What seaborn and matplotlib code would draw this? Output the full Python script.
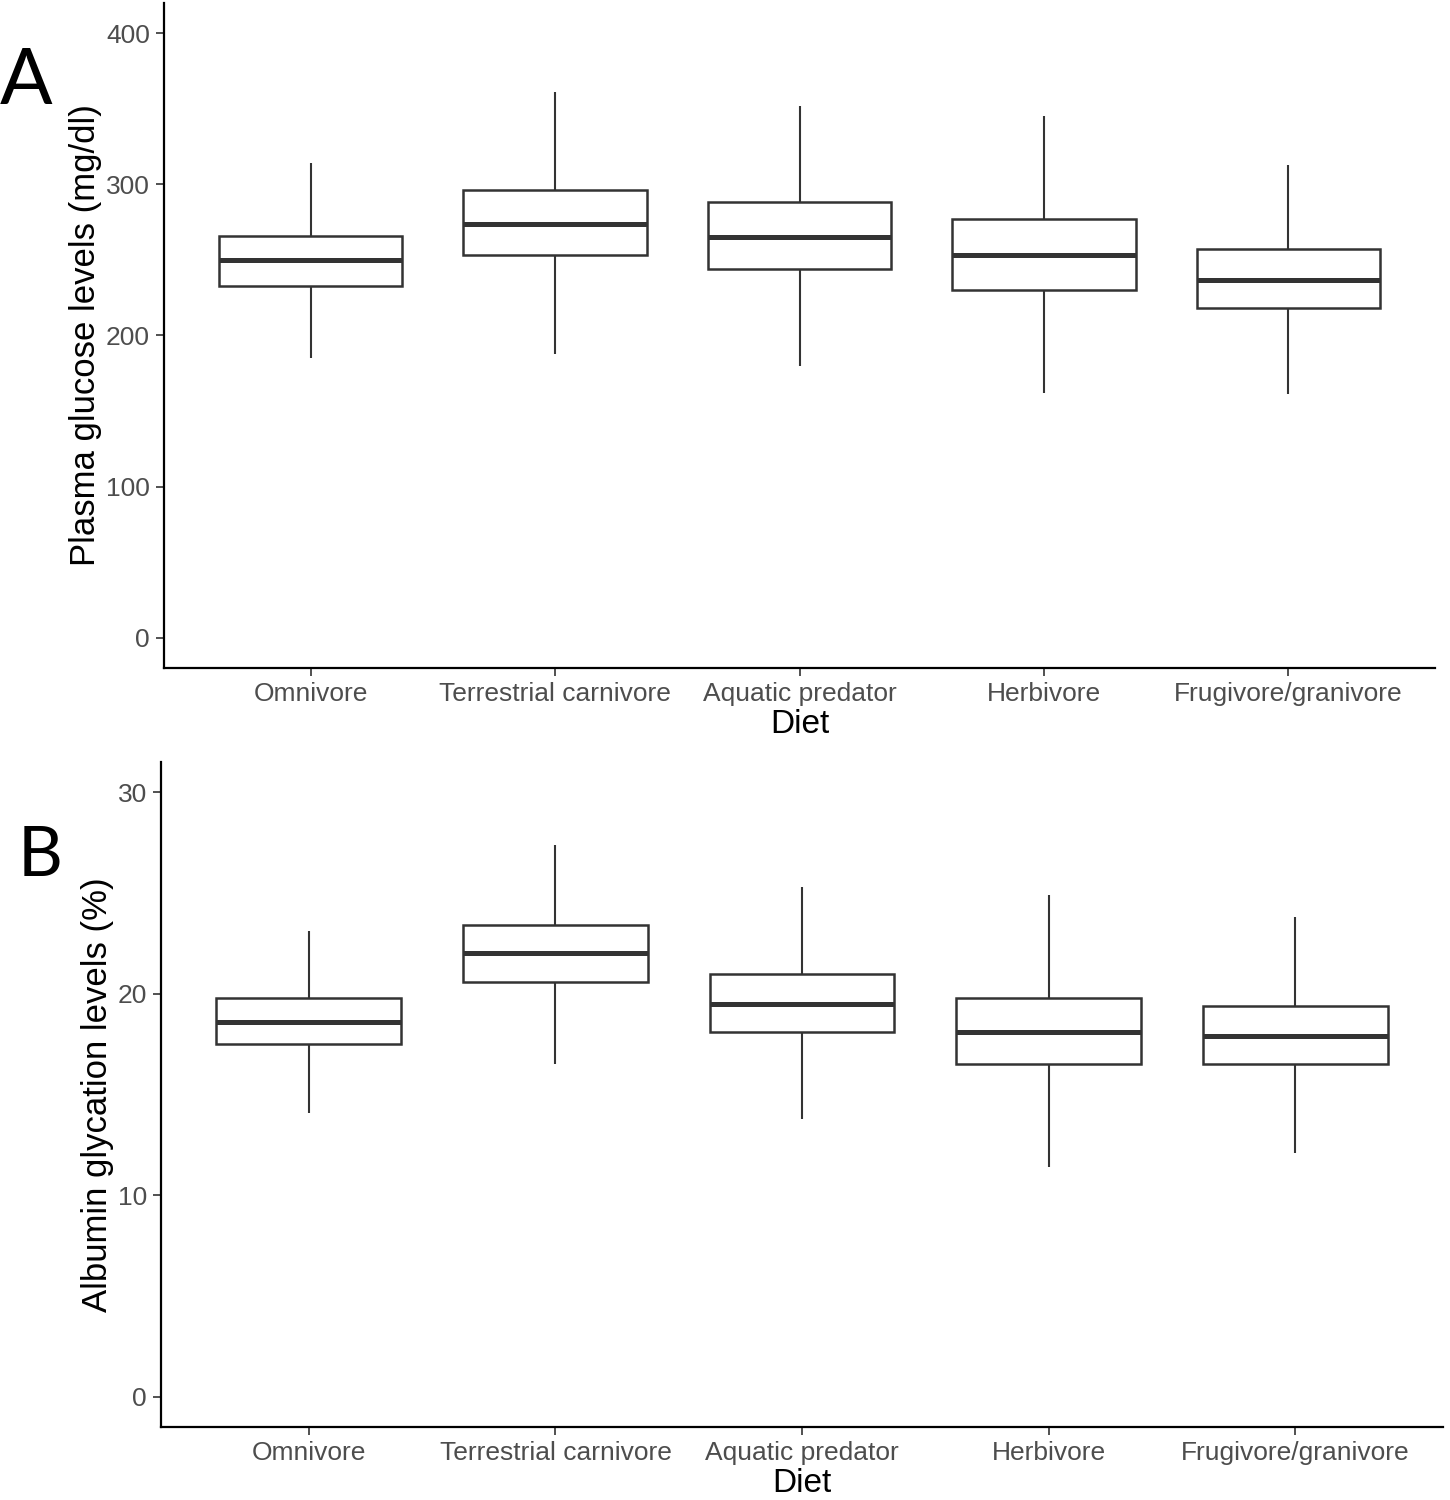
import pandas as pd
import matplotlib

matplotlib.use("Agg")
import matplotlib.pyplot as plt
import seaborn as sns

diets = ["Omnivore", "Terrestrial carnivore", "Aquatic predator", "Herbivore", "Frugivore/granivore"]

# five-number summaries (whisker low, Q1, median, Q3, whisker high)
glucose_low = [185, 188, 180, 162, 161]
glucose_q1 = [233, 253, 244, 230, 218]
glucose_med = [250, 274, 265, 253, 237]
glucose_q3 = [266, 296, 288, 277, 257]
glucose_high = [314, 361, 352, 345, 313]

albumin_low = [14.1, 16.5, 13.8, 11.4, 12.1]
albumin_q1 = [17.5, 20.6, 18.1, 16.5, 16.5]
albumin_med = [18.6, 22.0, 19.5, 18.1, 17.9]
albumin_q3 = [19.8, 23.4, 21.0, 19.8, 19.4]
albumin_high = [23.1, 27.4, 25.3, 24.9, 23.8]


def long_table(*cols):
    rows = []
    for i, d in enumerate(diets):
        for col in cols:
            rows.append({"Diet": d, "value": col[i]})
    return pd.DataFrame(rows)


glucose = long_table(glucose_low, glucose_q1, glucose_med, glucose_q3, glucose_high)
albumin = long_table(albumin_low, albumin_q1, albumin_med, albumin_q3, albumin_high)

sns.set_style("ticks")
plt.rcParams["font.family"] = ["Liberation Sans", "DejaVu Sans"]

fig = plt.figure(figsize=(14.5, 15), dpi=100)
ax_a = fig.add_axes([0.1131, 0.5547, 0.8766, 0.4433])
ax_b = fig.add_axes([0.1110, 0.0487, 0.8842, 0.4433])

panels = [
    (ax_a, glucose, "Plasma glucose levels (mg/dl)", (-20, 420), [0, 100, 200, 300, 400]),
    (ax_b, albumin, "Albumin glycation levels (%)", (-1.5, 31.5), [0, 10, 20, 30]),
]

for ax, df, ylab, ylim, yticks in panels:
    sns.boxplot(
        data=df, x="Diet", y="value", order=diets, ax=ax,
        width=0.75, whis=(0, 100), fill=True, color="white",
        linecolor="#333333", linewidth=1.6, showcaps=False,
        boxprops={"facecolor": "white", "edgecolor": "#333333", "linewidth": 1.8},
        medianprops={"color": "#333333", "linewidth": 3.6},
        whiskerprops={"color": "#333333", "linewidth": 1.5},
    )
    ax.set_xlim(-0.6, 4.6)
    ax.set_ylim(*ylim)
    ax.set_yticks(yticks)
    ax.set_xlabel("Diet", fontsize=24, color="black", labelpad=2)
    ax.set_ylabel(ylab, fontsize=25, color="black", labelpad=3)
    ax.tick_params(axis="both", labelsize=19, labelcolor="#4D4D4D", color="#333333",
                   length=6, width=1.2, pad=4)
    sns.despine(ax=ax)
    for side in ["left", "bottom"]:
        ax.spines[side].set_color("black")
        ax.spines[side].set_linewidth(1.6)

fig.text(0.0, 0.9447, "A", fontsize=56, family="Lato", color="black", ha="left", va="center")
fig.text(0.0125, 0.4287, "B", fontsize=50, family="Lato", color="black", ha="left", va="center")

fig.savefig("out.png", dpi=100)
plt.close(fig)
